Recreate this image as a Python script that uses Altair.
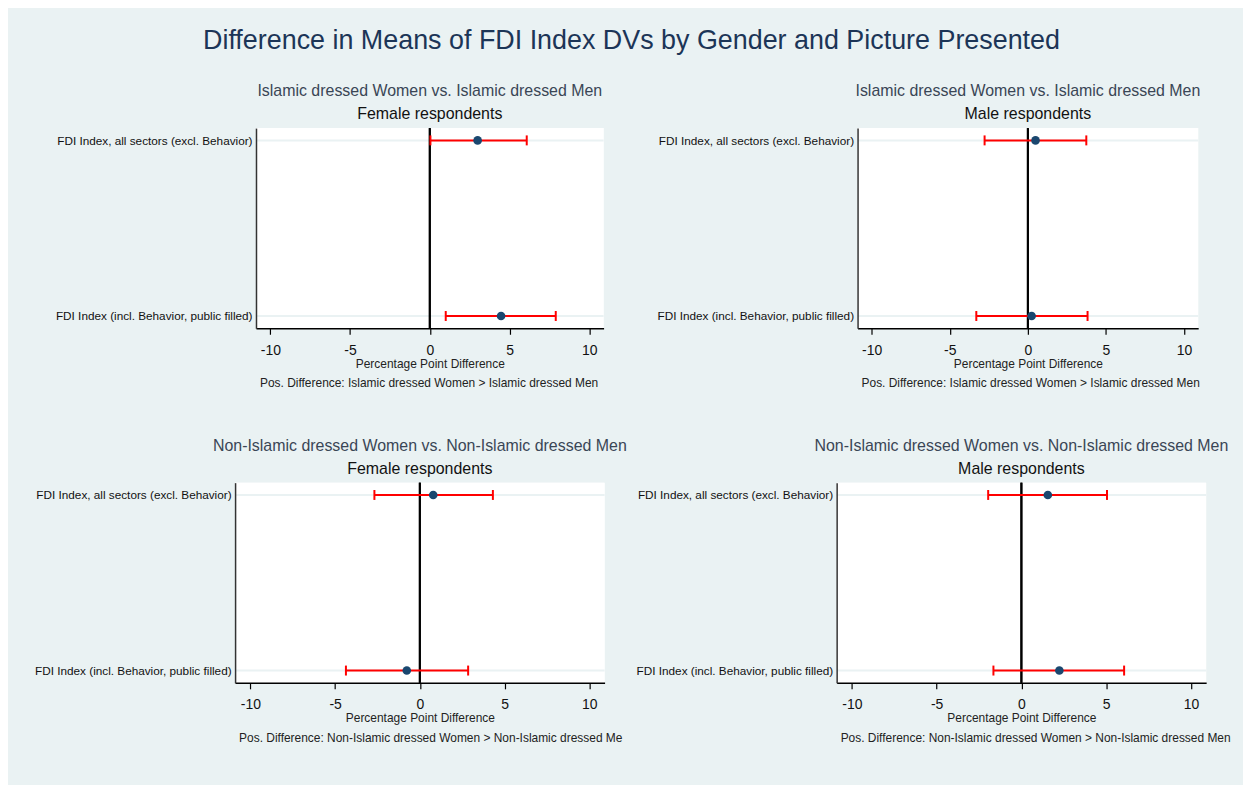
import altair as alt
import pandas as pd

categories = ["FDI Index, all sectors (excl. Behavior)",
              "FDI Index (incl. Behavior, public filled)"]

panel_titles = ["Islamic dressed Women vs. Islamic dressed Men",
                "Islamic dressed Women vs. Islamic dressed Men",
                "Non-Islamic dressed Women vs. Non-Islamic dressed Men",
                "Non-Islamic dressed Women vs. Non-Islamic dressed Men"]
panel_subtitles = ["Female respondents", "Male respondents",
                   "Female respondents", "Male respondents"]
notes = ["Pos. Difference: Islamic dressed Women > Islamic dressed Men",
         "Pos. Difference: Islamic dressed Women > Islamic dressed Men",
         "Pos. Difference: Non-Islamic dressed Women > Non-Islamic dressed Men",
         "Pos. Difference: Non-Islamic dressed Women > Non-Islamic dressed Men"]

estimates = [[3.0, 4.47], [0.49, 0.24], [0.79, -0.77], [1.56, 2.24]]
lower = [[0.04, 1.0], [-2.77, -3.3], [-2.68, -4.36], [-1.96, -1.65]]
upper = [[6.08, 7.9], [3.74, 3.82], [4.31, 2.85], [5.05, 6.06]]

x_ticks = [-10, -5, 0, 5, 10]
x_domain = [-10.9, 10.9]

main_title = "Difference in Means of FDI Index DVs by Gender and Picture Presented"
x_title = "Percentage Point Difference"

FONT = "Liberation Sans"
BG = "#EAF2F3"
H = 201


def panel(i, w, extent, note_limit, lead=0):
    df = pd.DataFrame({"cat": categories, "est": estimates[i],
                       "lo": lower[i], "hi": upper[i]})
    base = alt.Chart(df)
    xs = alt.Scale(domain=x_domain, range=[lead, w + lead], nice=False, zero=False)
    ys = alt.Scale(type="point", domain=categories, padding=0.07)
    x_axis = alt.Axis(values=x_ticks, title=x_title, grid=False,
                      labelExpr="datum.value", zindex=1,
                      domainColor="black", domainWidth=1.5,
                      tickColor="black", tickWidth=1.2, tickSize=6,
                      labelFontSize=14, labelColor="#111", labelPadding=9,
                      titleFontSize=12, titleFontWeight="normal",
                      titleColor="#222", titlePadding=1, labelFlush=False)
    y_axis = alt.Axis(title=None, grid=False, zindex=1,
                      ticks=False, domainColor="#333", domainWidth=1.5,
                      labelFontSize=11.8, labelColor="#111", labelPadding=4,
                      labelLimit=400, minExtent=extent, maxExtent=extent,
                      offset=-lead)

    plotbg = base.mark_rect(color="white").encode(
        x=alt.datum(x_domain[0], scale=xs), x2=alt.datum(x_domain[1]),
        y=alt.value(0), y2=alt.value(H))
    grid = base.mark_rule(color=BG, strokeWidth=2).encode(
        y=alt.Y("cat:N", scale=ys, sort=categories))
    zero = base.mark_rule(color="black", strokeWidth=2).encode(
        x=alt.datum(0, scale=xs))
    bars = base.mark_rule(color="#ff0000", strokeWidth=2).encode(
        x=alt.X("lo:Q", scale=xs, axis=x_axis),
        x2="hi:Q",
        y=alt.Y("cat:N", scale=ys, axis=y_axis, sort=categories))
    cap_lo = base.mark_tick(color="#ff0000", thickness=2, size=10, opacity=1).encode(
        x=alt.X("lo:Q", scale=xs), y=alt.Y("cat:N", scale=ys, sort=categories))
    cap_hi = base.mark_tick(color="#ff0000", thickness=2, size=10, opacity=1).encode(
        x=alt.X("hi:Q", scale=xs), y=alt.Y("cat:N", scale=ys, sort=categories))
    pts = base.mark_circle(color="#1a476f", size=75, opacity=1).encode(
        x=alt.X("est:Q", scale=xs), y=alt.Y("cat:N", scale=ys, sort=categories))
    note = alt.Chart(pd.DataFrame({"note": [notes[i]]})).mark_text(
        align="left", baseline="alphabetic", fontSize=12, color="#222",
        limit=note_limit, ellipsis=" ", font=FONT).encode(
        x=alt.value(lead + 4), y=alt.value(H + 59), text="note:N")

    return alt.layer(plotbg, grid, zero, bars, cap_lo, cap_hi, pts, note).properties(
        width=w + lead, height=H,
        title=alt.TitleParams(panel_titles[i], subtitle=panel_subtitles[i],
                              anchor="middle", fontSize=16, fontWeight="normal",
                              color="#3a4656", subtitleFontSize=16,
                              subtitleColor="#111", subtitlePadding=7,
                              offset=5, dx=lead / 2, font=FONT, subtitleFont=FONT))


p1 = panel(0, 349, 204, 500, lead=21)
p2 = panel(1, 342, 224, 500)
p3 = panel(2, 371, 204, 390)
p4 = panel(3, 371, 203, 500)

chart = alt.concat(p1, p2, p3, p4, columns=2, align="none",
                   spacing={"row": 47, "column": 6}).properties(
    title=alt.TitleParams(main_title, anchor="middle", fontSize=27,
                          fontWeight="normal", color="#1c3557", offset=28,
                          font=FONT, frame="bounds"),
    background=BG,
    padding={"left": 23, "top": 17, "right": 11, "bottom": 43},
).configure(font=FONT).configure_view(fill="transparent", stroke="transparent")

chart.save("out.html", embed_options={"renderer": "svg", "actions": False})
